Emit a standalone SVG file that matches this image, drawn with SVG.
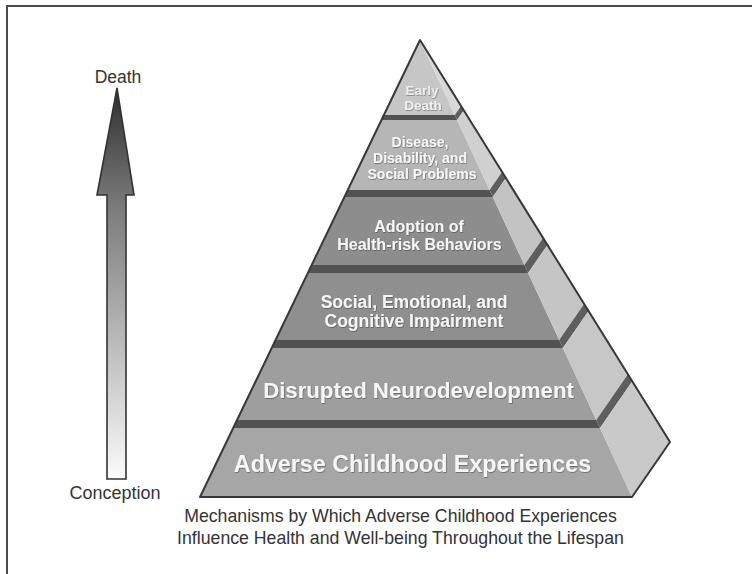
<svg xmlns="http://www.w3.org/2000/svg" width="752" height="574" viewBox="0 0 752 574">
<defs>
<linearGradient id="arrowGrad" gradientUnits="userSpaceOnUse" x1="0" y1="88" x2="0" y2="479">
<stop offset="0" stop-color="#2e2e2e"/>
<stop offset="0.3" stop-color="#7a7a7a"/>
<stop offset="1" stop-color="#fbfbfb"/>
</linearGradient>
<filter id="sh" x="-10%" y="-30%" width="120%" height="160%">
<feDropShadow dx="0.6" dy="0.8" stdDeviation="0.6" flood-color="#333" flood-opacity="0.55"/>
</filter>
<style>
.frame{stroke:#4a4a4a;stroke-width:2;fill:none}
.band{fill:#525252}
.bandS{fill:#5e5e5e}
.pt{font-family:"Liberation Sans",Arial,sans-serif;font-weight:bold;fill:#f6f6f6;text-anchor:middle;filter:url(#sh)}
.lbl{font-family:"Liberation Sans",Arial,sans-serif;fill:#333;text-anchor:middle}
.outline{fill:none;stroke:#383838;stroke-width:2;stroke-linejoin:round}
</style>
</defs>
<rect width="752" height="574" fill="#fff"/>
<path class="frame" d="M7 574 V6 H752"/>

<g id="connectors">
<polygon points="117,88 134,195 126,195 126,479 107,479 107,195 97,195" fill="url(#arrowGrad)" stroke="#333" stroke-width="1.6" stroke-linejoin="miter"/>
</g>

<g id="label-death"><text class="lbl" x="118" y="83" font-size="17.5">Death</text></g>
<g id="label-conception"><text class="lbl" x="115" y="499" font-size="18">Conception</text></g>

<g id="layer-early-death">
<polygon points="420,40 383.9,115 454.8,115" fill="#c6c6c6"/>
<polygon points="420,40 454.8,115 461,106" fill="#d8d8d8"/>
<text class="pt" x="422" y="95" font-size="13.5" fill-opacity="0.85">Early</text>
<text class="pt" x="423" y="110" font-size="13.5" fill-opacity="0.9">Death</text>
</g>
<g id="band-1">
<polygon class="band" points="383.9,115 454.8,115 457.1,120 381.5,120"/>
<polygon class="bandS" points="454.8,115 461,106 463.8,110.4 457.1,120"/>
</g>

<g id="layer-disease">
<polygon points="381.5,120 457.1,120 489.6,190 347.8,190" fill="#b6b6b6"/>
<polygon points="457.1,120 463.8,110.4 502.1,171.9 489.6,190" fill="#d0d0d0"/>
<text class="pt" x="420" y="147" font-size="14">Disease,</text>
<text class="pt" x="420" y="163" font-size="14">Disability, and</text>
<text class="pt" x="422" y="178.5" font-size="14">Social Problems</text>
</g>
<g id="band-2">
<polygon class="band" points="347.8,190 489.6,190 492.8,197 344.4,197"/>
<polygon class="bandS" points="489.6,190 502.1,171.9 505.9,178.1 492.8,197"/>
</g>

<g id="layer-adoption">
<polygon points="344.4,197 492.8,197 524.4,265 311.7,265" fill="#8d8d8d"/>
<polygon points="492.8,197 505.9,178.1 543.1,237.9 524.4,265" fill="#c3c3c3"/>
<text class="pt" x="419" y="232" font-size="16">Adoption of</text>
<text class="pt" x="419.5" y="250" font-size="16">Health-risk Behaviors</text>
</g>
<g id="band-3">
<polygon class="band" points="311.7,265 524.4,265 528.1,273 307.8,273"/>
<polygon class="bandS" points="524.4,265 543.1,237.9 547.5,244.9 528.1,273"/>
</g>

<g id="layer-social">
<polygon points="307.8,273 528.1,273 559.2,340 275.6,340" fill="#8f8f8f"/>
<polygon points="528.1,273 547.5,244.9 584.1,303.9 559.2,340" fill="#c5c5c5"/>
<text class="pt" x="414" y="308" font-size="17.5">Social, Emotional, and</text>
<text class="pt" x="414" y="327" font-size="17.5">Cognitive Impairment</text>
</g>
<g id="band-4">
<polygon class="band" points="275.6,340 559.2,340 562.9,348 271.7,348"/>
<polygon class="bandS" points="559.2,340 584.1,303.9 588.5,310.9 562.9,348"/>
</g>

<g id="layer-disrupted">
<polygon points="271.7,348 562.9,348 596.3,420 237.1,420" fill="#9e9e9e"/>
<polygon points="562.9,348 588.5,310.9 627.9,374.3 596.3,420" fill="#c7c7c7"/>
<text class="pt" x="418.5" y="398" font-size="22.2">Disrupted Neurodevelopment</text>
</g>
<g id="band-5">
<polygon class="band" points="237.1,420 596.3,420 600,428 233.2,428"/>
<polygon class="bandS" points="596.3,420 627.9,374.3 632.3,381.3 600,428"/>
</g>

<g id="layer-adverse">
<polygon points="233.2,428 600,428 632,497 200,497" fill="#a6a6a6"/>
<polygon points="600,428 632.3,381.3 670,442 632,497" fill="#c9c9c9"/>
<text class="pt" x="412.5" y="472" font-size="23.3">Adverse Childhood Experiences</text>
</g>

<polygon class="outline" points="420,40 200,497 632,497 670,442"/>

<g id="caption">
<text class="lbl" x="400.5" y="522" font-size="17.7">Mechanisms by Which Adverse Childhood Experiences</text>
<text class="lbl" x="400.5" y="543.5" font-size="17.7">Influence Health and Well-being Throughout the Lifespan</text>
</g>
</svg>
